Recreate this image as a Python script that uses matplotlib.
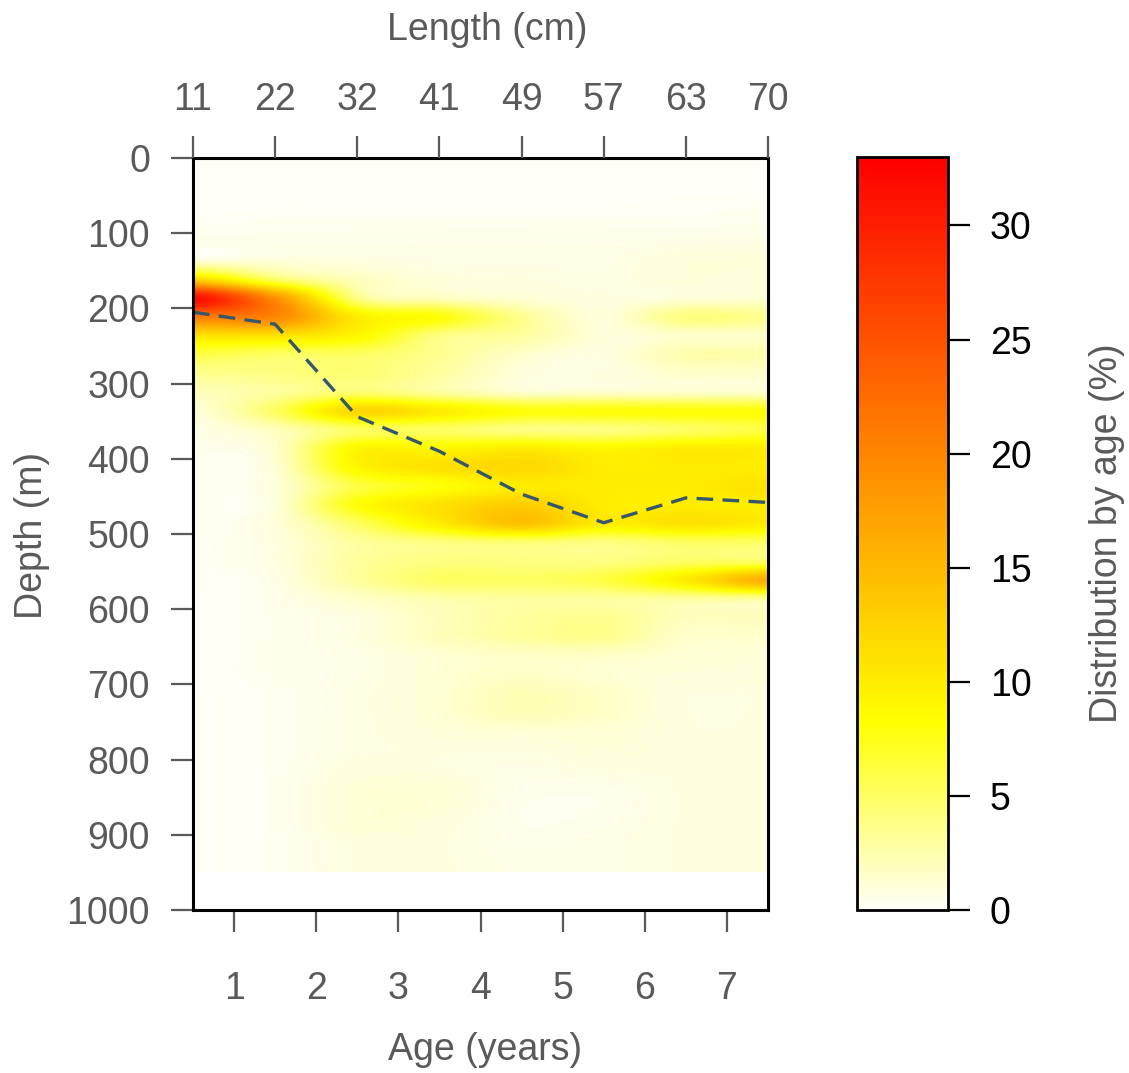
import numpy as np
import matplotlib
matplotlib.use("Agg")
import matplotlib.pyplot as plt
from matplotlib.colors import LinearSegmentedColormap

plt.rcParams["font.family"] = ["Liberation Sans", "DejaVu Sans"]

# ---- data -------------------------------------------------------------
ages = [1, 2, 3, 4, 5, 6, 7]
lengths_cm = [11, 22, 32, 41, 49, 57, 63, 70]
depth_ticks = [0, 100, 200, 300, 400, 500, 600, 700, 800, 900, 1000]
cbar_ticks = [0, 5, 10, 15, 20, 25, 30]

# depth bins of 25 m from 0 to 950 m (values at bin centres)
depth_bin_edges = np.arange(0, 951, 25)

# distribution by age (%) for each length class, top to bottom
dist_11cm = [0, 0, 0, 0.2, 0.5, 1, 12, 32, 21, 11, 6, 3.5, 2, 1, 0.6, 0.4, 0.3, 0.3, 0.3,
             0.3, 0.2, 0.2, 0.2, 0.1, 0.1, 0.1, 0.1, 0.1, 0.1, 0.1, 0.1, 0.1, 0.1, 0.1,
             0.1, 0.1, 0.1, 0.1]
dist_22cm = [0, 0, 0.1, 0.3, 0.5, 1, 5, 19, 20, 11, 5, 4, 3, 5, 2, 1.5, 1.2, 1, 1,
             1, 0.8, 0.8, 0.6, 0.5, 0.4, 0.4, 0.4, 0.4, 0.3, 0.3, 0.3, 0.3, 0.3, 0.3,
             0.3, 0.3, 0.3, 0.3]
dist_32cm = [0, 0, 0.1, 0.3, 0.5, 0.8, 2, 4, 10, 9, 5, 4.5, 4.5, 12, 5, 9, 9, 6, 8,
             5, 3, 3, 3, 1.5, 0.8, 0.8, 0.6, 0.6, 0.7, 0.7, 0.7, 0.7, 0.9, 1.1, 1.1, 1.1, 0.8, 0.8]
dist_41cm = [0, 0, 0.1, 0.3, 0.5, 0.6, 1, 2, 8, 4, 3.5, 3, 3, 10, 5, 9, 11, 8, 11,
             10, 4, 4, 5, 2.5, 2, 2, 1.2, 1.2, 1.2, 1.2, 1, 0.8, 0.8, 1.1, 1.1, 0.9, 0.8, 0.8]
dist_49cm = [0, 0, 0.1, 0.3, 0.5, 0.6, 0.8, 1.2, 3.5, 3, 1.5, 1, 1.5, 8, 4, 10, 12, 10, 13,
             14, 4.5, 4, 5, 3, 3, 3, 1.6, 1.6, 2.2, 2.2, 1.2, 0.8, 0.6, 0.5, 0.4, 0.4, 0.5, 0.6]
dist_57cm = [0, 0, 0.1, 0.3, 0.5, 0.6, 0.7, 0.8, 1, 1, 0.8, 0.8, 1.5, 8, 4, 9, 10, 10, 10,
             10, 4, 4, 6, 3, 3.5, 3.5, 1.6, 1.2, 1.6, 1.6, 1.2, 1, 0.8, 0.5, 0.4, 0.5, 0.6, 0.6]
dist_63cm = [0, 0, 0.2, 0.3, 0.6, 1, 1, 1, 4, 1.5, 2.5, 1.5, 1.5, 8, 5, 10, 10, 10, 10,
             11, 5, 5, 10, 3, 2, 1.5, 1.2, 1, 0.8, 0.8, 0.8, 0.8, 0.8, 0.8, 0.8, 0.8, 0.8, 0.8]
dist_70cm = [0, 0.1, 0.2, 0.4, 0.6, 1, 1, 1.2, 3.5, 1.5, 2.5, 1.5, 1.5, 8, 6, 10, 10, 11, 10,
             10, 5, 5, 16, 3, 2, 1.5, 1, 1, 0.8, 0.8, 0.8, 0.8, 0.8, 0.8, 0.8, 0.8, 0.8, 0.8]

# mean depth (m) at each length class
mean_depth = [205, 221, 344, 390, 447, 485, 452, 458]

# ---- colour map (white -> yellow -> red) ------------------------------
heat = LinearSegmentedColormap.from_list(
    "heat_rev", [(0.0, (1.0, 1.0, 0.97)), (0.25, (1.0, 1.0, 0.0)), (1.0, (1.0, 0.0, 0.0))])

grid = np.column_stack([dist_11cm, dist_22cm, dist_32cm, dist_41cm,
                        dist_49cm, dist_57cm, dist_63cm, dist_70cm])
n_cls = grid.shape[1]
cls_pos = np.arange(n_cls) + 0.5

# ---- figure -----------------------------------------------------------
W, H = 1129, 1073
fig = plt.figure(figsize=(W / 100, H / 100), dpi=100)

def fx(px):
    return px / W

def fy(py):
    return 1 - py / H

ax = fig.add_axes([fx(193), fy(910), fx(768) - fx(193), fy(158) - fy(910)])
im = ax.imshow(grid, cmap=heat, vmin=0, vmax=33, aspect="auto",
               interpolation="catrom", interpolation_stage="data", origin="upper",
               extent=[0, n_cls, depth_bin_edges[-1], depth_bin_edges[0]])
ax.plot(cls_pos, mean_depth, color="#36566a", lw=2.4, dashes=(5.0, 2.8))
ax.set_xlim(0.5, 7.5)
ax.set_ylim(1000, 0)

grey = "#5a5a5a"
ax.set_xticks(ages)
ax.set_xticklabels([str(a) for a in ages])
ax.set_yticks(depth_ticks)
ax.set_yticklabels([str(d) for d in depth_ticks])
ax.tick_params(axis="x", length=16, width=1.6, color=grey, labelcolor=grey,
               labelsize=27, pad=28)
ax.tick_params(axis="y", length=16, width=1.6, color=grey, labelcolor=grey,
               labelsize=27, pad=15)
for s in ax.spines.values():
    s.set_linewidth(2.2)
    s.set_color("black")

top = ax.twiny()
top.set_xlim(0.5, 7.5)
top.set_xticks(cls_pos)
top.set_xticklabels([str(v) for v in lengths_cm])
top.tick_params(axis="x", length=16, width=1.6, color=grey, labelcolor=grey,
                labelsize=27, pad=13)
for s in top.spines.values():
    s.set_visible(False)

fig.text(fx(487), fy(30), "Length (cm)", ha="center", va="center", fontsize=27, color=grey)
fig.text(fx(485), fy(1050), "Age (years)", ha="center", va="center", fontsize=27, color=grey)
fig.text(fx(32), fy(535), "Depth (m)", ha="center", va="center", rotation=90,
         fontsize=27, color=grey)

# ---- colour bar -------------------------------------------------------
cax = fig.add_axes([fx(857), fy(910), fx(948) - fx(857), fy(157) - fy(910)])
cb = fig.colorbar(im, cax=cax, ticks=cbar_ticks)
cb.outline.set_linewidth(2)
cax.tick_params(length=16, width=1.6, color="black", labelcolor="black",
                labelsize=27, pad=14)
fig.text(fx(1107), fy(533), "Distribution by age (%)", ha="center", va="center",
         rotation=90, fontsize=27, color=grey)

fig.savefig("out.png", dpi=100)
